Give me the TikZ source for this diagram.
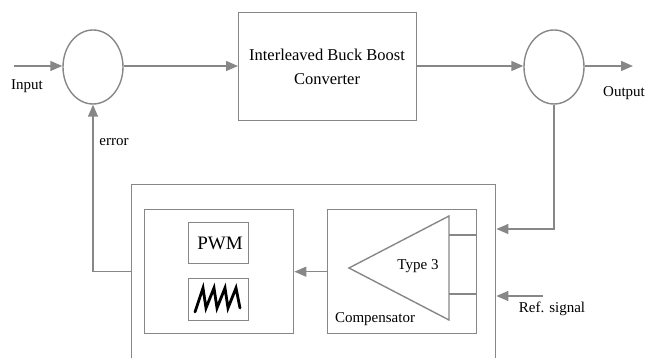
\documentclass[tikz,border=0pt]{standalone}
\usepackage{fontspec}
\setmainfont{Liberation Serif}
\usetikzlibrary{arrows.meta,shapes.geometric}
\definecolor{lg}{RGB}{135,135,135}
\tikzset{
  box/.style={draw=lg, line width=1.4pt, inner sep=0pt},
  sumnode/.style={draw=lg, line width=1.4pt, ellipse, minimum width=60pt, minimum height=74pt, inner sep=0pt},
  arr/.style={draw=lg, line width=1.4pt, -{Triangle[length=12pt,width=10pt]}},
  ln/.style={draw=lg, line width=1.4pt},
  lbl/.style={font=\fontsize{15}{17}\selectfont, inner sep=0pt}
}
\begin{document}
\begin{tikzpicture}[x=1pt,y=-1pt]
\useasboundingbox (0,0) rectangle (646,358);
% top row
\node[sumnode] (c1) at (93,67) {};
\node[box, minimum width=178pt, minimum height=108pt, anchor=north west] (conv) at (238,12) {};
\node[font=\fontsize{16.5}{24}\selectfont, align=center, inner sep=0pt] (convtxt) at (327,67) {Interleaved Buck Boost\\Converter};
\node[sumnode] (c2) at (554,67) {};
\coordinate (inp) at (14,66);
\coordinate (outp) at (633,66);
\draw[arr] (inp) -- (c1.west |- inp);
\draw[arr] (c1.east |- inp) -- (conv.west |- inp);
\draw[arr] (conv.east |- inp) -- (c2.west |- inp);
\draw[arr] (c2.east |- inp) -- (outp);
\node[lbl] (inlbl) at (27,86) {Input};
\node[lbl] (outlbl) at (624,93) {Output};
% outer controller box (bottom edge below the picture)
\node[box, minimum width=364pt, minimum height=200pt, anchor=north west] (outer) at (131,184) {};
% PWM group
\node[box, minimum width=149pt, minimum height=124pt, anchor=north west] (pwmgrp) at (144,209) {};
\node[box, minimum width=60pt, minimum height=41pt, anchor=north west] (pwm) at (188,222) {};
\node[font=\fontsize{19}{21}\selectfont, inner sep=0pt] (pwmtxt) at (220,243) {PWM};
\node[box, minimum width=60pt, minimum height=42pt, anchor=north west] (saw) at (188,278) {};
\draw[black, line width=2.8pt, line join=miter, line cap=round]
  (195,312) -- (203,288) -- (206,308) -- (214,288) -- (217,308) -- (225,288) -- (228,308) -- (236,288) -- (240,308);
% compensator
\node[box, minimum width=149pt, minimum height=124pt, anchor=north west] (comp) at (327,209) {};
\draw[ln] (349,268) -- (449,216) -- (449,320) -- cycle;
\draw[draw=lg, line width=2.6pt] (449,235) -- (comp.east |- 0,235);
\draw[draw=lg, line width=2.6pt] (449,294) -- (comp.east |- 0,294);
\node[lbl] (type) at (418,266) {Type 3};
\node[lbl] (complbl) at (375,319) {Compensator};
% connections
\draw[arr] (comp.west |- pwmgrp.east) -- (pwmgrp.east);
\draw[arr] (outer.west |- pwmgrp.east) -| (c1.south);
\node[lbl] (err) at (114,142) {error};
\coordinate (fb) at (554,229);
\draw[arr] (c2.south) -- (fb) -- (outer.east |- fb);
\coordinate (ref) at (543,296);
\draw[arr] (ref) -- (outer.east |- ref);
\node[lbl] (reflbl) at (552,309) {Ref. signal};
\end{tikzpicture}
\end{document}
